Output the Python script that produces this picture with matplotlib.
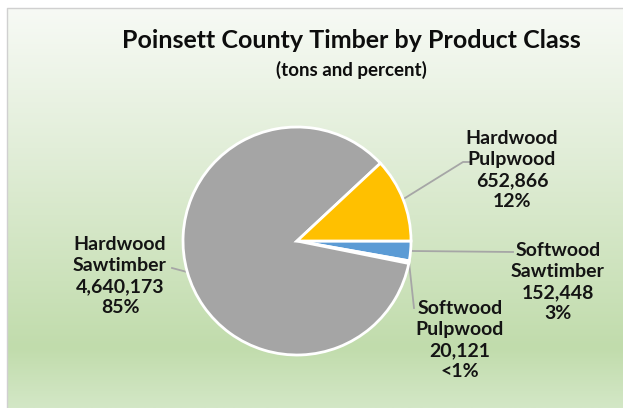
import numpy as np
import matplotlib.pyplot as plt
from matplotlib.colors import LinearSegmentedColormap

# data (order as in the sheet; first slice starts at 3 o'clock, clockwise)
products = ["Softwood\nSawtimber", "Softwood\nPulpwood", "Hardwood\nSawtimber", "Hardwood\nPulpwood"]
tons = [152448, 20121, 4640173, 652866]
colors = ["#5B9BD5", "#ED7D31", "#A5A5A5", "#FFC000"]

W, H = 623, 408
CX, CY, R = 297, H - 241, 114

# label centres and leader-line elbows (image px, y from top)
label_pos = [(558, 282), (460, 340), (120, 276), (512, 170)]
elbows = [(513, 252), (414, 308), (172, 268), (463, 162)]
elbow_ends = [None, None, None, (470, 162)]

plt.rcParams["font.family"] = ["Lato", "DejaVu Sans"]

fig = plt.figure(figsize=(W / 100, H / 100), dpi=100)
ax = fig.add_axes([0, 0, 1, 1])

# chart area background: pale top, green lower down
cmap = LinearSegmentedColormap.from_list(
    "bg", [(0, "#F7FAF5"), (0.35, "#E2EED9"), (0.85, "#C1DCAC"), (1.0, "#D3E7C6")])
grad = np.linspace(0, 1, 256).reshape(-1, 1)
ax.imshow(grad, cmap=cmap, aspect="auto", extent=[7, W, 0, H - 8], zorder=0)
ax.plot([7, 7, W], [0, H - 8, H - 8], color="#D0D0D0", lw=1, zorder=1)

total = sum(tons)
wedges, _ = ax.pie(tons, colors=colors, startangle=0, counterclock=False,
                   center=(CX, CY), radius=R, frame=True,
                   wedgeprops=dict(edgecolor="white", linewidth=2))
ax.set_xlim(0, W)
ax.set_ylim(0, H)
ax.set_aspect("equal")
ax.axis("off")

for i, w in enumerate(wedges):
    w.set_zorder(2)
    ang = np.deg2rad((w.theta1 + w.theta2) / 2)
    sx, sy = CX + R * np.cos(ang), CY + R * np.sin(ang)
    ex, ey = elbows[i]
    xs, ys = [sx, ex], [sy, H - ey]
    if elbow_ends[i] is not None:
        xs.append(elbow_ends[i][0])
        ys.append(H - elbow_ends[i][1])
    ax.plot(xs, ys, color="#A6A6A6", lw=1.3, zorder=1.5)

    pct = 100 * tons[i] / total
    pct_txt = "<1%" if pct < 1 else f"{pct:.0f}%"
    lx, ly = label_pos[i]
    ax.text(lx, H - ly, f"{products[i]}\n{tons[i]:,}\n{pct_txt}", ha="center", va="center",
            fontsize=14, fontweight="bold", color="#141414", linespacing=1.3, zorder=3)

ax.text(351, H - 40, "Poinsett County Timber by Product Class", ha="center", va="center",
        fontsize=18, fontweight="bold", color="#0D0D0D")
ax.text(351, H - 70, "(tons and percent)", ha="center", va="center",
        fontsize=13.5, fontweight="bold", color="#0D0D0D")

fig.savefig("out.png", dpi=100)
